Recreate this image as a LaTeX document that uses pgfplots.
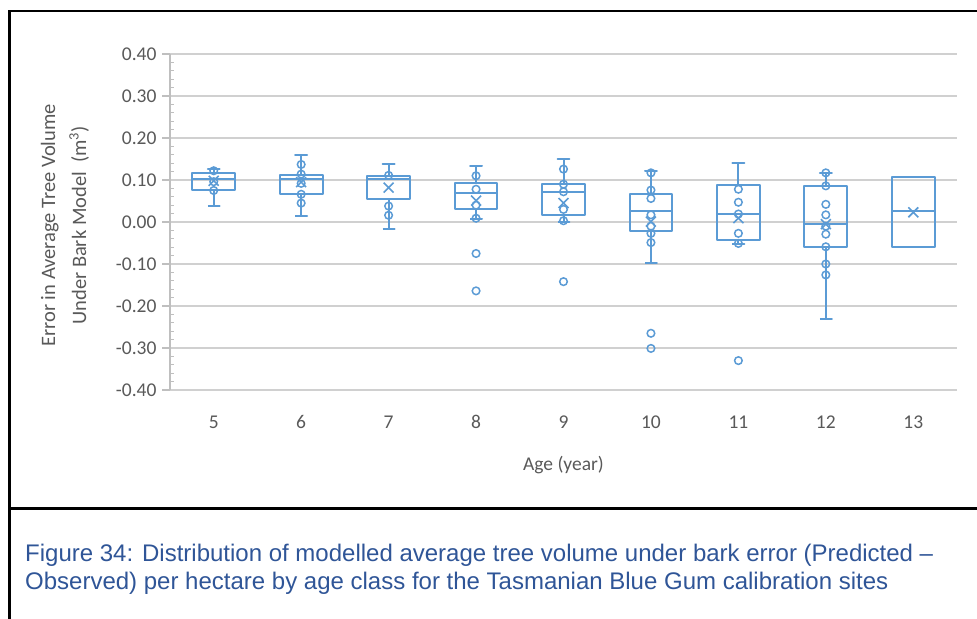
\documentclass[border=0pt]{standalone}
\usepackage{fontspec}
\setmainfont{Carlito}
\newfontfamily\capfont{Liberation Sans}
\usepackage{pgfplots}
\pgfplotsset{compat=1.18}
\definecolor{xblue}{HTML}{5B9BD5}
\definecolor{tickgray}{HTML}{595959}
\definecolor{gridgray}{HTML}{D0D0D0}
\definecolor{axgray}{HTML}{BFBFBF}
\definecolor{capblue}{HTML}{2F5597}
\pgfplotsset{bx/.style={xblue, line width=2bp, solid, line join=round, mark=none}}
\begin{document}
\begin{tikzpicture}
\useasboundingbox (0bp,0bp) rectangle (977bp,619bp);
\draw[line width=2.5bp] (9.5bp,0bp) -- (9.5bp,608bp) -- (977bp,608bp);
\draw[line width=2.5bp] (9.5bp,110.5bp) -- (977bp,110.5bp);
\node[anchor=base west, font=\capfont\fontsize{24bp}{27bp}\selectfont, text=capblue, inner sep=0] at (25bp,57bp) {Figure 34: Distribution of modelled average tree volume under bark error (Predicted –};
\node[anchor=base west, font=\capfont\fontsize{24bp}{27bp}\selectfont, text=capblue, inner sep=0] at (25bp,30bp) {Observed) per hectare by age class for the Tasmanian Blue Gum calibration sites};
\begin{axis}[at={(170bp,229bp)}, anchor=south west, scale only axis,
  width=787bp, height=336bp,
  xmin=4.5, xmax=13.5, ymin=-0.4, ymax=0.4,
  xtick={5,6,7,8,9,10,11,12,13},
  ytick={-0.4,-0.3,-0.2,-0.1,0,0.1,0.2,0.3,0.4},
  minor y tick num=4,
  axis x line*=bottom, axis y line*=left,
  x axis line style={draw=none},
  y axis line style={axgray, line width=1.5bp},
  ymajorgrids, major grid style={gridgray, line width=1.6bp},
  major x tick style={draw=none},
  tick align=outside,
  major tick length=8bp, minor tick length=4bp,
  major y tick style={axgray, line width=1.2bp},
  minor y tick style={axgray, line width=1bp, xshift=4bp},
  /pgf/number format/assume math mode=true,
  yticklabel style={/pgf/number format/fixed, /pgf/number format/zerofill, /pgf/number format/precision=2, text=tickgray, font=\fontsize{19.5bp}{22bp}\selectfont, xshift=-2bp},
  xticklabel style={text=tickgray, font=\fontsize{19.5bp}{22bp}\selectfont, yshift=-14bp},
  xlabel={Age (year)},
  xlabel style={text=tickgray, font=\fontsize{19.5bp}{22bp}\selectfont, at={(axis description cs:0.5,-0.223)}, anchor=center},
  ylabel={Error in Average Tree Volume\\Under Bark Model\ \ (m\textsuperscript{3})},
  ylabel style={text=tickgray, font=\fontsize{20.5bp}{31bp}\selectfont, align=center, at={(axis description cs:-0.1334,0.49)}, anchor=center, rotate=0},
  clip=false,
]
% boxes: whisker caps, box, median (lower whisker, Q1, median, Q3, upper whisker)
\addplot[bx] coordinates {(4.932,0.038) (5.068,0.038) (5,0.038) (5,0.075) (4.755,0.075) (4.755,0.116) (5,0.116) (5,0.126) (4.932,0.126) (5.068,0.126) (5,0.126) (5,0.116) (5.245,0.116) (5.245,0.075) (4.755,0.075) (4.755,0.102) (5.245,0.102)};
\addplot[bx] coordinates {(5.932,0.015) (6.068,0.015) (6,0.015) (6,0.066) (5.755,0.066) (5.755,0.111) (6,0.111) (6,0.160) (5.932,0.160) (6.068,0.160) (6,0.160) (6,0.111) (6.245,0.111) (6.245,0.066) (5.755,0.066) (5.755,0.103) (6.245,0.103)};
\addplot[bx] coordinates {(6.932,-0.016) (7.068,-0.016) (7,-0.016) (7,0.055) (6.755,0.055) (6.755,0.110) (7,0.110) (7,0.137) (6.932,0.137) (7.068,0.137) (7,0.137) (7,0.110) (7.245,0.110) (7.245,0.055) (6.755,0.055) (6.755,0.102) (7.245,0.102)};
\addplot[bx] coordinates {(7.932,0.006) (8.068,0.006) (8,0.006) (8,0.030) (7.755,0.030) (7.755,0.094) (8,0.094) (8,0.133) (7.932,0.133) (8.068,0.133) (8,0.133) (8,0.094) (8.245,0.094) (8.245,0.030) (7.755,0.030) (7.755,0.068) (8.245,0.068)};
\addplot[bx] coordinates {(8.932,0.001) (9.068,0.001) (9,0.001) (9,0.017) (8.755,0.017) (8.755,0.090) (9,0.090) (9,0.149) (8.932,0.149) (9.068,0.149) (9,0.149) (9,0.090) (9.245,0.090) (9.245,0.017) (8.755,0.017) (8.755,0.072) (9.245,0.072)};
\addplot[bx] coordinates {(9.932,-0.097) (10.068,-0.097) (10,-0.097) (10,-0.021) (9.755,-0.021) (9.755,0.066) (10,0.066) (10,0.121) (9.932,0.121) (10.068,0.121) (10,0.121) (10,0.066) (10.245,0.066) (10.245,-0.021) (9.755,-0.021) (9.755,0.026) (10.245,0.026)};
\addplot[bx] coordinates {(10.932,-0.053) (11.068,-0.053) (11,-0.053) (11,-0.044) (10.755,-0.044) (10.755,0.088) (11,0.088) (11,0.140) (10.932,0.140) (11.068,0.140) (11,0.140) (11,0.088) (11.245,0.088) (11.245,-0.044) (10.755,-0.044) (10.755,0.019) (11.245,0.019)};
\addplot[bx] coordinates {(11.932,-0.231) (12.068,-0.231) (12,-0.231) (12,-0.059) (11.755,-0.059) (11.755,0.086) (12,0.086) (12,0.117) (11.932,0.117) (12.068,0.117) (12,0.117) (12,0.086) (12.245,0.086) (12.245,-0.059) (11.755,-0.059) (11.755,-0.005) (12.245,-0.005)};
\addplot[bx] coordinates {(12.932,-0.059) (13.068,-0.059) (13,-0.059) (12.755,-0.059) (12.755,0.106) (13,0.106) (12.932,0.106) (13.068,0.106) (13.245,0.106) (13.245,-0.059) (12.755,-0.059) (12.755,0.026) (13.245,0.026)};
% points
\addplot[only marks, mark=o, mark size=3.8bp, xblue, mark options={line width=1.5bp}] coordinates {
(5,0.122) (5,0.096) (5,0.075)
(6,0.137) (6,0.114) (6,0.092) (6,0.066) (6,0.045)
(7,0.111) (7,0.038) (7,0.016)
(8,0.110) (8,0.078) (8,0.040) (8,0.009) (8,-0.075) (8,-0.164)
(9,0.126) (9,0.090) (9,0.072) (9,0.030) (9,0.003) (9,-0.142)
(10,0.117) (10,0.076) (10,0.056) (10,0.017) (10,-0.010) (10,-0.027) (10,-0.049) (10,-0.265) (10,-0.301)
(11,0.078) (11,0.047) (11,0.019) (11,-0.027) (11,-0.051) (11,-0.330)
(12,0.117) (12,0.086) (12,0.042) (12,0.017) (12,-0.010) (12,-0.029) (12,-0.059) (12,-0.100) (12,-0.126)
};
% means
\addplot[only marks, mark=x, mark size=7bp, xblue, mark options={line width=1.6bp}] coordinates {
(5,0.098) (6,0.095) (7,0.082) (8,0.051) (9,0.045) (10,0.001) (11,0.009) (12,-0.005) (13,0.023)
};
\end{axis}
\end{tikzpicture}
\end{document}
